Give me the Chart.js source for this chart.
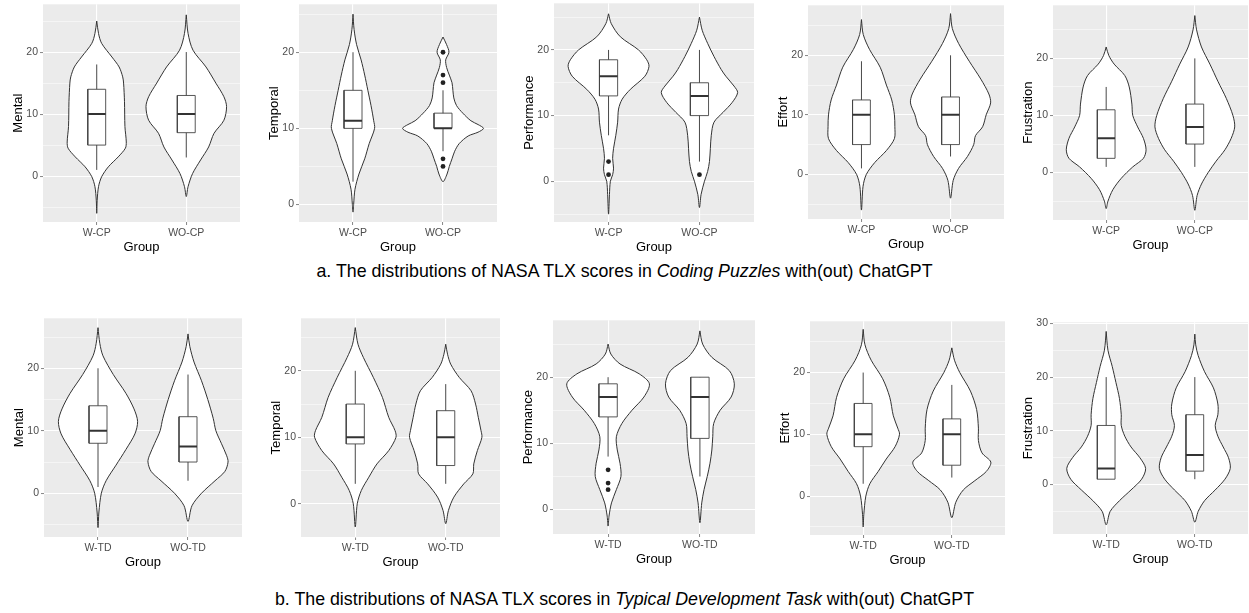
<!DOCTYPE html>
<html><head><meta charset="utf-8">
<script src="https://cdn.jsdelivr.net/npm/chart.js@4.4.1/dist/chart.umd.min.js"></script>
<style>
html,body{margin:0;padding:0;background:#fff}
body{width:1249px;height:613px;overflow:hidden;position:relative;font-family:"Liberation Sans",Arial,sans-serif}
canvas{position:absolute}
.cap{position:absolute;left:0;width:1249px;text-align:center;font-size:17.8px;line-height:20px;color:#000;white-space:nowrap}
</style></head><body>
<div class="cap" style="top:261px">a. The distributions of NASA TLX scores in <i>Coding Puzzles</i> with(out) ChatGPT</div>
<div class="cap" style="top:589px">b. The distributions of NASA TLX scores in <i>Typical Development Task</i> with(out) ChatGPT</div>
<script>
// ---------- DATA ----------
const groupsCP = ['W-CP', 'WO-CP'];
const groupsTD = ['W-TD', 'WO-TD'];
const measures = ['Mental', 'Temporal', 'Performance', 'Effort', 'Frustration'];
const xTitle = 'Group';

// y-axis limits per panel
const yRangeCP = [[-7.4, 27.7], [-2.3, 26.3], [-6.2, 27.1], [-7.5, 28.4], [-8.3, 29.3]];
const yRangeTD = [[-7, 28], [-5, 27.9], [-3.7, 28.6], [-6.3, 28.3], [-9.2, 30.2]];

// box stats: [lower whisker, Q1, median, Q3, upper whisker]
const boxMentalCP      = [[1, 5, 10, 14, 18], [3, 7, 10, 13, 20]];
const boxTemporalCP    = [[3, 10, 11, 15, 20], [7, 10, 10, 12, 15]];
const boxPerformanceCP = [[7, 13, 16, 18.5, 20], [3, 10, 13, 15, 20]];
const boxEffortCP      = [[1, 5, 10, 12.5, 19], [3, 5, 10, 13, 20]];
const boxFrustrationCP = [[1, 2.5, 6, 11, 15], [1, 5, 8, 12, 20]];
const boxMentalTD      = [[1, 8, 10, 14, 20], [2, 5, 7.5, 12.25, 19]];
const boxTemporalTD    = [[3, 9, 10, 15, 20], [3, 5.75, 10, 14, 18]];
const boxPerformanceTD = [[8, 14, 17, 19, 20], [5, 10.75, 17, 20, 20]];
const boxEffortTD      = [[2, 8, 10, 15, 20], [3, 5, 10, 12.5, 18]];
const boxFrustrationTD = [[1, 1, 3, 11, 20], [1, 2.5, 5.5, 13, 20]];

// outliers
const outTemporalCP    = [[], [20, 17, 16, 6, 5]];
const outPerformanceCP = [[3, 1], [1]];
const outPerformanceTD = [[6, 4, 3], []];
const noOut = [[], []];

// violin profiles: [value, half-width (in group units)]
const vMentalCP_W = [[25,0],[23,0.02],[21.4,0.055],[19.2,0.17],[17.6,0.25],[16,0.29],[15,0.30],[12,0.31],[8,0.315],[5.5,0.33],[4.5,0.32],[3.1,0.24],[1.5,0.13],[-0.1,0.055],[-1.7,0.02],[-3.9,0.005],[-6,0]];
const vMentalCP_WO = [[26,0],[23,0.02],[20.3,0.075],[17.6,0.22],[15,0.33],[12.8,0.42],[11.2,0.45],[9,0.42],[6.9,0.31],[4.7,0.25],[2.6,0.16],[0.4,0.07],[-1.7,0.02],[-3.3,0]];
const vTemporalCP_W = [[25,0],[23,0.012],[21,0.04],[19,0.09],[17,0.13],[15,0.165],[13,0.2],[11,0.23],[10,0.24],[8,0.18],[6,0.13],[4,0.066],[2,0.022],[0,0.007],[-1,0]];
const vTemporalCP_WO = [[22,0],[21,0.04],[20,0.066],[19,0.03],[18,0.04],[17,0.07],[16,0.10],[15,0.11],[14,0.12],[13,0.15],[12,0.22],[11,0.31],[10.5,0.39],[10,0.45],[9.5,0.39],[9,0.28],[8,0.18],[7,0.13],[6,0.10],[5,0.07],[4,0.045],[3,0]];
const vPerformanceCP_W = [[25.5,0],[24,0.03],[22,0.13],[20,0.33],[18.5,0.42],[17.5,0.445],[16,0.40],[14,0.24],[12.5,0.15],[11,0.11],[9,0.10],[7,0.08],[5,0.055],[3.5,0.045],[2,0.055],[1,0.045],[0,0.02],[-2,0.01],[-5,0]];
const vPerformanceCP_WO = [[25,0],[23,0.03],[21,0.09],[19,0.16],[17,0.24],[16,0.29],[14.5,0.38],[13.5,0.42],[12,0.36],[10.5,0.26],[9,0.16],[7,0.13],[5,0.12],[3,0.11],[1.5,0.09],[0,0.055],[-2,0.018],[-4,0]];
const vEffortCP_W = [[26,0],[23.5,0.02],[21,0.09],[18,0.21],[15,0.28],[12.5,0.34],[10,0.37],[8,0.375],[6,0.37],[4,0.28],[2,0.15],[0,0.055],[-2,0.018],[-6,0]];
const vEffortCP_WO = [[27,0],[24.5,0.02],[22,0.09],[19,0.21],[16,0.34],[13.5,0.43],[12,0.45],[10,0.40],[8,0.36],[6.5,0.28],[5,0.26],[3,0.19],[1,0.09],[-1,0.03],[-4,0]];
const vFrustrationCP_W = [[22,0],[20.5,0.03],[19,0.09],[17,0.21],[15,0.26],[12,0.29],[10,0.30],[8,0.355],[6,0.42],[4,0.45],[2.5,0.42],[1,0.30],[-1,0.17],[-3,0.075],[-5,0.02],[-6.3,0]];
const vFrustrationCP_WO = [[27.5,0],[25,0.02],[22,0.075],[19,0.17],[16,0.26],[13,0.355],[10,0.43],[8,0.45],[6,0.41],[4,0.34],[2,0.24],[0,0.15],[-2,0.075],[-4,0.026],[-6.6,0]];
const vMentalTD_W = [[26.5,0],[24,0.02],[22,0.055],[19,0.17],[16,0.31],[13.5,0.40],[11.5,0.44],[9.5,0.41],[7,0.31],[4.5,0.20],[2,0.09],[0,0.037],[-3,0.01],[-5.5,0]];
const vMentalTD_WO = [[25.5,0],[23.5,0.02],[21,0.067],[18,0.15],[15,0.22],[12,0.28],[10,0.31],[8,0.37],[6,0.43],[5,0.445],[3.5,0.41],[2,0.30],[0,0.15],[-2,0.044],[-4.5,0]];
const vTemporalTD_W = [[26.5,0],[24,0.03],[22,0.09],[19,0.20],[16,0.30],[13,0.37],[11,0.44],[10,0.45],[8,0.37],[6,0.24],[4,0.15],[2,0.067],[0,0.022],[-3.5,0]];
const vTemporalTD_WO = [[24,0],[22.5,0.02],[21,0.055],[19,0.15],[17,0.28],[15,0.33],[13,0.36],[11,0.39],[10,0.40],[8,0.35],[6,0.31],[4.5,0.30],[3,0.20],[1,0.09],[-1,0.03],[-3,0]];
const vPerformanceTD_W = [[25,0],[23.5,0.03],[22,0.13],[20.5,0.34],[19,0.45],[17,0.39],[15,0.26],[13,0.15],[11,0.09],[9,0.10],[7,0.13],[5,0.14],[3,0.09],[1,0.037],[-1,0.01],[-2.5,0]];
const vPerformanceTD_WO = [[27,0],[25,0.03],[23,0.13],[21,0.32],[19,0.375],[17,0.34],[15,0.22],[13,0.15],[11,0.14],[9,0.13],[7,0.11],[5,0.08],[3,0.045],[1,0.02],[-2,0]];
const vEffortTD_W = [[27,0],[24.5,0.02],[22,0.09],[19,0.22],[16,0.30],[13,0.34],[11,0.39],[10,0.41],[8,0.36],[6,0.26],[4,0.17],[2,0.075],[0,0.03],[-3,0.007],[-5,0]];
const vEffortTD_WO = [[24,0],[22,0.03],[20,0.09],[17,0.21],[14,0.28],[11,0.30],[9,0.30],[7,0.34],[5.5,0.44],[4,0.39],[2.5,0.26],[1,0.13],[-1,0.045],[-3.5,0]];
const vFrustrationTD_W = [[28.5,0],[25,0.02],[22,0.068],[19,0.11],[16,0.15],[13,0.17],[11,0.17],[9,0.21],[7,0.28],[5,0.38],[3,0.445],[1,0.40],[-1,0.28],[-3,0.15],[-5,0.045],[-7.5,0]];
const vFrustrationTD_WO = [[28,0],[26,0.01],[24,0.038],[21,0.11],[18,0.21],[15,0.26],[13,0.26],[11,0.23],[9,0.26],[7,0.32],[5,0.38],[3,0.40],[1,0.34],[-1,0.23],[-3,0.11],[-5,0.038],[-7,0]];

// ---------- LAYOUT (plot area rectangles: left, right, top, bottom) ----------
const panelRects = [
  [43, 240, 4, 222], [299, 499, 4, 222], [554, 756, 3, 222], [808, 1004, 5, 219], [1053, 1248, 5, 220],
  [44, 242, 318, 537], [301, 500, 318, 537], [553, 757, 320, 534], [810, 1005, 321, 535], [1053, 1248, 322, 534]
];

const FONT = '"Liberation Sans", Arial, sans-serif';
Chart.defaults.font.family = FONT;
const BOXW = 0.1;

const panelBg = {
  id: 'panelBg',
  beforeDraw(chart) {
    const { ctx, chartArea: a } = chart;
    ctx.save();
    ctx.fillStyle = '#EBEBEB';
    ctx.fillRect(a.left, a.top, a.right - a.left, a.bottom - a.top);
    ctx.restore();
  }
};

function makePanel(rect, yRange, groups, yTitle, boxes, outliers, violins) {
  const [L, R, T, B] = rect;
  const AXW = 45, AXH = 34, PT = 8, PR = 2;
  const cv = document.createElement('canvas');
  const w = AXW + (R - L) + PR, h = PT + (B - T) + AXH;
  cv.width = w; cv.height = h;
  cv.style.left = (L - AXW) + 'px'; cv.style.top = (T - PT) + 'px';
  cv.style.width = w + 'px'; cv.style.height = h + 'px';
  document.body.appendChild(cv);

  const datasets = [];
  groups.forEach((g, i) => {
    const c = i + 1;
    const prof = violins[i];
    const right = prof.map(([y, hw]) => ({ x: c + hw, y }));
    const left = prof.slice().reverse().slice(1).map(([y, hw]) => ({ x: c - hw, y }));
    datasets.push({ data: right.concat(left), showLine: true, fill: 'shape', backgroundColor: '#ffffff',
      borderColor: '#333333', borderWidth: 1, pointRadius: 0, tension: 0.3, order: 4 });
    const [lo, q1, med, q3, hi] = boxes[i];
    datasets.push({ data: [{ x: c, y: lo }, { x: c, y: hi }], showLine: true, borderColor: '#333333',
      borderWidth: 0.9, pointRadius: 0, order: 3 });
    datasets.push({ data: [{ x: c - BOXW, y: q1 }, { x: c + BOXW, y: q1 }, { x: c + BOXW, y: q3 }, { x: c - BOXW, y: q3 }, { x: c - BOXW, y: q1 }],
      showLine: true, fill: 'shape', backgroundColor: '#ffffff', borderColor: '#444444', borderWidth: 0.9, pointRadius: 0, order: 2 });
    datasets.push({ data: [{ x: c - BOXW, y: med }, { x: c + BOXW, y: med }], showLine: true, borderColor: '#333333',
      borderWidth: 2, pointRadius: 0, order: 1 });
    if (outliers[i].length) {
      datasets.push({ data: outliers[i].map(v => ({ x: c, y: v })), showLine: false, pointRadius: 2.4,
        pointBackgroundColor: '#222222', pointBorderWidth: 0, order: 0 });
    }
  });

  const [ymin, ymax] = yRange;
  new Chart(cv, {
    type: 'scatter',
    data: { datasets },
    plugins: [panelBg],
    options: {
      responsive: false, animation: false, events: [],
      layout: { padding: { left: 0, right: PR, top: PT, bottom: 0 } },
      plugins: { legend: { display: false }, tooltip: { enabled: false } },
      scales: {
        x: {
          type: 'linear', min: 0.4, max: 2.6,
          afterBuildTicks: s => { s.ticks = [{ value: 1 }, { value: 2 }]; },
          afterFit: s => { s.height = AXH; },
          ticks: { callback: v => groups[Math.round(v) - 1], color: '#4D4D4D', font: { size: 10.5 }, padding: 2, autoSkip: false, maxRotation: 0 },
          grid: { color: '#ffffff', lineWidth: 1.1, tickLength: 3, tickColor: '#333333', tickWidth: 0.6 },
          border: { display: false },
          title: { display: true, text: xTitle, color: '#000', font: { size: 13 }, padding: { top: 0, bottom: 1.2 } }
        },
        y: {
          type: 'linear', min: ymin, max: ymax,
          afterBuildTicks: s => {
            const t = [];
            for (let v = Math.ceil(ymin / 5) * 5; v <= ymax; v += 5) t.push({ value: v });
            s.ticks = t;
          },
          afterFit: s => { s.width = AXW; },
          ticks: { callback: v => (v % 10 === 0 ? String(v) : ''), color: '#4D4D4D', font: { size: 10.5 }, padding: 2, autoSkip: false },
          grid: {
            color: '#ffffff',
            lineWidth: ctx => (ctx.tick && ctx.tick.value % 10 === 0 ? 1.1 : 0.5),
            tickLength: 3,
            tickColor: ctx => (ctx.tick && ctx.tick.value % 10 === 0 ? '#333333' : 'rgba(0,0,0,0)'),
            tickWidth: 0.6
          },
          border: { display: false },
          title: { display: true, text: yTitle, color: '#000', font: { size: 13 }, padding: { top: 12.2, bottom: 0 } }
        }
      }
    }
  });
}

const boxesCP = [boxMentalCP, boxTemporalCP, boxPerformanceCP, boxEffortCP, boxFrustrationCP];
const boxesTD = [boxMentalTD, boxTemporalTD, boxPerformanceTD, boxEffortTD, boxFrustrationTD];
const outCP = [noOut, outTemporalCP, outPerformanceCP, noOut, noOut];
const outTD = [noOut, noOut, outPerformanceTD, noOut, noOut];
const violCP = [[vMentalCP_W, vMentalCP_WO], [vTemporalCP_W, vTemporalCP_WO], [vPerformanceCP_W, vPerformanceCP_WO], [vEffortCP_W, vEffortCP_WO], [vFrustrationCP_W, vFrustrationCP_WO]];
const violTD = [[vMentalTD_W, vMentalTD_WO], [vTemporalTD_W, vTemporalTD_WO], [vPerformanceTD_W, vPerformanceTD_WO], [vEffortTD_W, vEffortTD_WO], [vFrustrationTD_W, vFrustrationTD_WO]];

measures.forEach((m, i) => {
  makePanel(panelRects[i], yRangeCP[i], groupsCP, m, boxesCP[i], outCP[i], violCP[i]);
  makePanel(panelRects[5 + i], yRangeTD[i], groupsTD, m, boxesTD[i], outTD[i], violTD[i]);
});
</script>
</body></html>
